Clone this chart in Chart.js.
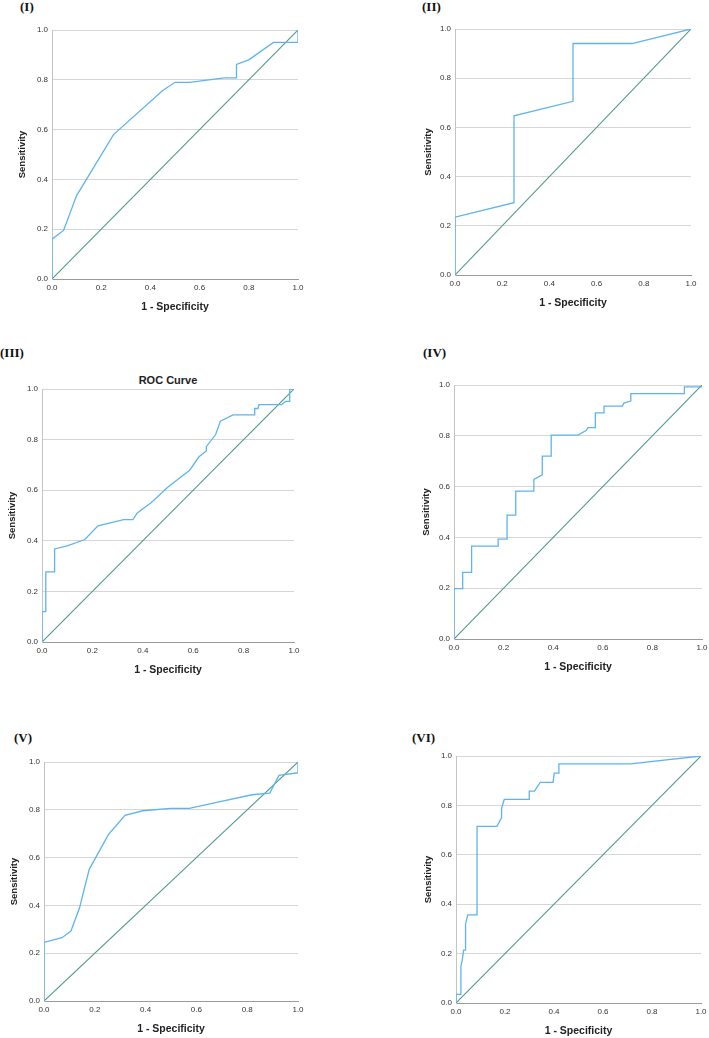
<!DOCTYPE html>
<html>
<head>
<meta charset="utf-8">
<script src="https://cdn.jsdelivr.net/npm/chart.js@4"></script>
<style>
  body { margin:0; background:#fff; width:709px; height:1038px; position:relative; overflow:hidden; }
  .lbl { position:absolute; font:bold 13px "Liberation Serif","Times New Roman",serif; color:#111; line-height:14px; white-space:nowrap; }
  .ttl { position:absolute; font:bold 11px "Liberation Sans",Arial,sans-serif; color:#222; line-height:12px; white-space:nowrap; transform:translateX(-50%); }
  canvas { position:absolute; }
</style>
</head>
<body>
<script>
// axis ticks shared by every panel
const ticks = [0, 0.2, 0.4, 0.6, 0.8, 1.0];
// reference line
const diagonal = [0, 1];

// (I)
const fprI = [0, 0, 0.047, 0.10, 0.25, 0.45, 0.50, 0.56, 0.70, 0.75, 0.75, 0.80, 0.90, 1.0, 1.0];
const tprI = [0, 0.16, 0.195, 0.335, 0.58, 0.757, 0.79, 0.79, 0.808, 0.808, 0.862, 0.88, 0.95, 0.95, 1.0];
// (II)
const fprII = [0, 0, 0.25, 0.25, 0.50, 0.50, 0.75, 1.0];
const tprII = [0, 0.235, 0.294, 0.647, 0.706, 0.941, 0.941, 1.0];
// (III)
const fprIII = [0, 0, 0.015, 0.015, 0.05, 0.05, 0.10, 0.17, 0.222, 0.324, 0.361, 0.378, 0.434, 0.50, 0.586, 0.623, 0.652, 0.652, 0.689, 0.708, 0.758, 0.844, 0.844, 0.857, 0.861, 0.95, 0.967, 0.983, 0.983, 1.0];
const tprIII = [0, 0.12, 0.12, 0.277, 0.277, 0.368, 0.38, 0.405, 0.459, 0.484, 0.484, 0.51, 0.551, 0.613, 0.679, 0.732, 0.755, 0.772, 0.82, 0.873, 0.898, 0.898, 0.923, 0.923, 0.938, 0.938, 0.951, 0.951, 1.0, 1.0];
// (IV)
const fprIV = [0, 0, 0.035, 0.035, 0.071, 0.071, 0.178, 0.178, 0.214, 0.214, 0.249, 0.249, 0.322, 0.322, 0.356, 0.356, 0.392, 0.392, 0.50, 0.534, 0.54, 0.57, 0.57, 0.605, 0.605, 0.679, 0.685, 0.713, 0.713, 0.929, 0.929, 1.0, 1.0];
const tprIV = [0, 0.198, 0.198, 0.262, 0.262, 0.366, 0.366, 0.393, 0.393, 0.488, 0.488, 0.582, 0.582, 0.628, 0.646, 0.72, 0.72, 0.803, 0.803, 0.822, 0.832, 0.832, 0.89, 0.89, 0.917, 0.917, 0.929, 0.937, 0.966, 0.966, 0.993, 0.993, 1.0];
// (V)
const fprV = [0, 0, 0.071, 0.106, 0.14, 0.178, 0.254, 0.319, 0.389, 0.499, 0.572, 0.68, 0.819, 0.889, 0.925, 1.0, 1.0];
const tprV = [0, 0.245, 0.265, 0.293, 0.39, 0.551, 0.697, 0.777, 0.796, 0.806, 0.806, 0.831, 0.863, 0.87, 0.944, 0.955, 1.0];
// (VI)
const fprVI = [0, 0, 0.02, 0.02, 0.026, 0.031, 0.039, 0.039, 0.048, 0.086, 0.086, 0.167, 0.186, 0.186, 0.197, 0.299, 0.299, 0.32, 0.344, 0.396, 0.401, 0.42, 0.42, 0.712, 1.0];
const tprVI = [0, 0.035, 0.035, 0.149, 0.176, 0.214, 0.214, 0.32, 0.357, 0.357, 0.715, 0.715, 0.751, 0.788, 0.824, 0.824, 0.858, 0.858, 0.893, 0.893, 0.931, 0.931, 0.968, 0.968, 1.0];

// layout: plot box [left, top, right, bottom], label pos, y axis width
const panels = [
  { label: '(I)',   fpr: fprI,   tpr: tprI,   plot: [52, 30, 298, 279],   lbl: [20, 0],    yW: 39 },
  { label: '(II)',  fpr: fprII,  tpr: tprII,  plot: [455, 29, 691, 275],  lbl: [422, 0],   yW: 36 },
  { label: '(III)', fpr: fprIII, tpr: tprIII, plot: [42, 389, 294, 642],  lbl: [0, 346],   yW: 39, title: 'ROC Curve' },
  { label: '(IV)',  fpr: fprIV,  tpr: tprIV,  plot: [454, 385, 702, 639], lbl: [423, 346], yW: 37 },
  { label: '(V)',   fpr: fprV,   tpr: tprV,   plot: [44, 762, 298, 1001], lbl: [14, 731],  yW: 39 },
  { label: '(VI)',  fpr: fprVI,  tpr: tprVI,  plot: [456, 756, 701, 1003], lbl: [412, 731], yW: 37 }
];

const padTop = 10, padRight = 12, xH = 38;
const blue = '#5fb4ee', green = '#4f9a8e';

function pts(xs, ys) {
  return xs.map((x, i) => ({ x: x, y: ys[i] }));
}

panels.forEach(p => {
  const [L, T, R, B] = p.plot;
  const w = (R - L) + p.yW + padRight;
  const h = (B - T) + padTop + xH;

  const lab = document.createElement('div');
  lab.className = 'lbl';
  lab.style.left = p.lbl[0] + 'px';
  lab.style.top = p.lbl[1] + 'px';
  lab.textContent = p.label;
  document.body.appendChild(lab);

  if (p.title) {
    const t = document.createElement('div');
    t.className = 'ttl';
    t.style.left = ((L + R) / 2) + 'px';
    t.style.top = (T - 15) + 'px';
    t.textContent = p.title;
    document.body.appendChild(t);
  }

  const cv = document.createElement('canvas');
  cv.width = w; cv.height = h;
  cv.style.left = (L - p.yW) + 'px';
  cv.style.top = (T - padTop) + 'px';
  cv.style.width = w + 'px'; cv.style.height = h + 'px';
  document.body.appendChild(cv);

  new Chart(cv, {
    type: 'scatter',
    data: {
      datasets: [
        { data: pts(p.fpr, p.tpr), showLine: true, borderColor: blue, borderWidth: 1.3, pointRadius: 0, tension: 0 },
        { data: pts(diagonal, diagonal), showLine: true, borderColor: green, borderWidth: 1.1, pointRadius: 0 }
      ]
    },
    options: {
      responsive: false,
      animation: false,
      layout: { padding: { top: padTop, right: padRight, left: 0, bottom: 0 } },
      plugins: { legend: { display: false }, tooltip: { enabled: false } },
      scales: {
        x: {
          type: 'linear', min: 0, max: 1,
          afterBuildTicks: s => { s.ticks = ticks.map(v => ({ value: v })); },
          afterFit: s => { s.height = xH; },
          grid: { display: false, drawTicks: false },
          border: { display: true, color: '#9a9a9a', width: 1 },
          ticks: { padding: 4, color: '#333', font: { family: 'Liberation Sans', size: 8 }, callback: v => v.toFixed(1), maxRotation: 0 },
          title: { display: true, text: '1 - Specificity', color: '#222', font: { family: 'Liberation Sans', size: 10.5, weight: 'bold' }, padding: { top: 0, bottom: 4 } }
        },
        y: {
          type: 'linear', min: 0, max: 1,
          afterBuildTicks: s => { s.ticks = ticks.map(v => ({ value: v })); },
          afterFit: s => { s.width = p.yW; },
          grid: { display: true, drawTicks: false, color: '#d6d6d6', lineWidth: 1 },
          border: { display: true, color: '#c4c4c4', width: 1 },
          ticks: { padding: 4, color: '#333', font: { family: 'Liberation Sans', size: 8 }, callback: v => v.toFixed(1) },
          title: { display: true, text: 'Sensitivity', color: '#222', font: { family: 'Liberation Sans', size: 9.5, weight: 'bold' }, padding: { top: 4, bottom: 0 } }
        }
      }
    }
  });
});
</script>
</body>
</html>
